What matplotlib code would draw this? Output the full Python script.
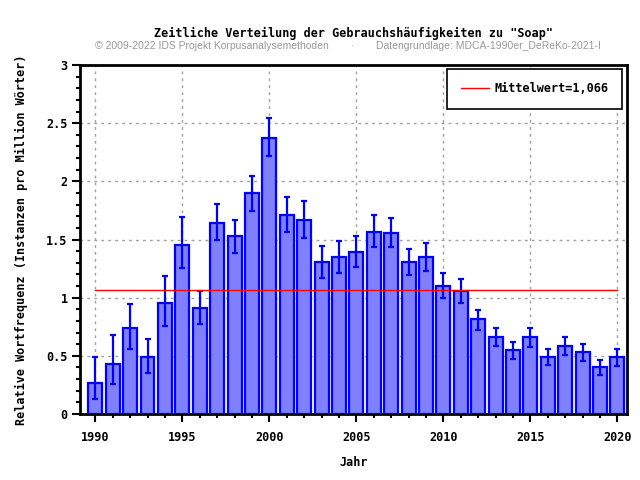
import matplotlib
matplotlib.use("Agg")
import matplotlib.pyplot as plt
from matplotlib.ticker import MultipleLocator, FuncFormatter

years = list(range(1990, 2021))
values = [0.264, 0.427, 0.737, 0.487, 0.951, 1.456, 0.908, 1.645, 1.528, 1.897,
          2.376, 1.714, 1.671, 1.304, 1.347, 1.396, 1.568, 1.559, 1.304, 1.347,
          1.103, 1.055, 0.814, 0.659, 0.547, 0.659, 0.487, 0.582, 0.530, 0.401, 0.487]
err_hi = [0.493, 0.682, 0.948, 0.648, 1.186, 1.697, 1.060, 1.808, 1.668, 2.049,
          2.548, 1.868, 1.834, 1.447, 1.490, 1.533, 1.714, 1.688, 1.421, 1.468,
          1.215, 1.163, 0.897, 0.742, 0.622, 0.742, 0.562, 0.665, 0.605, 0.467, 0.562]
err_lo = [0.129, 0.261, 0.562, 0.355, 0.759, 1.255, 0.776, 1.496, 1.387, 1.748,
          2.221, 1.568, 1.516, 1.169, 1.215, 1.267, 1.436, 1.436, 1.195, 1.230,
          0.997, 0.954, 0.722, 0.587, 0.473, 0.576, 0.424, 0.510, 0.456, 0.338, 0.413]
mean_value = 1.066
mean_label = "Mittelwert=1,066"
title = 'Zeitliche Verteilung der Gebrauchshäufigkeiten zu "Soap"'
subtitle_left = "© 2009-2022 IDS Projekt Korpusanalysemethoden"
subtitle_right = "Datengrundlage: MDCA-1990er_DeReKo-2021-I"

mono = "DejaVu Sans Mono"

fig = plt.figure(figsize=(6.4, 4.8), dpi=100)
ax = fig.add_axes([80/640, 66/480, 547/640, 349/480])

yerr = [[v - l for v, l in zip(values, err_lo)], [h - v for v, h in zip(values, err_hi)]]
ax.bar(years, values, width=0.8, color="#8080ff", edgecolor="#0000ff", linewidth=1.6, zorder=3)
ax.errorbar(years, values, yerr=yerr, fmt="none", ecolor="#0000ff", elinewidth=1.6,
            capsize=2.5, capthick=1.6, zorder=4)
ax.plot([years[0], years[-1]], [mean_value, mean_value], color="#ff0000", linewidth=1.0,
        zorder=5, label=mean_label)

ax.set_xlim(1989.12, 2020.55)
ax.set_ylim(0, 3)
ax.xaxis.set_major_locator(MultipleLocator(5))
ax.xaxis.set_minor_locator(MultipleLocator(1))
ax.yaxis.set_major_locator(MultipleLocator(0.5))
ax.yaxis.set_minor_locator(MultipleLocator(0.1))
ax.yaxis.set_major_formatter(FuncFormatter(lambda v, pos: f"{v:g}"))

ax.grid(True, which="major", color="#a0a0a0", linestyle=(0, (2, 3)), linewidth=1.0, zorder=0)
ax.tick_params(which="major", direction="out", length=6, width=1.5, labelsize=8.5, pad=3)
ax.tick_params(which="minor", direction="out", length=3, width=1.5)
ax.tick_params(axis="x", which="major", pad=6)
for lab in ax.get_xticklabels() + ax.get_yticklabels():
    lab.set_fontfamily(mono)
    lab.set_fontweight("bold")
for sp in ax.spines.values():
    sp.set_linewidth(2)
    sp.set_color("black")

ax.set_xlabel("Jahr", fontfamily=mono, fontweight="bold", fontsize=8.5, labelpad=9)
ax.set_ylabel("Relative Wortfrequenz (Instanzen pro Million Wörter)", fontfamily=mono,
              fontweight="bold", fontsize=8.5, labelpad=13)

leg = ax.legend(loc="upper right", bbox_to_anchor=(0.991, 0.989), borderaxespad=0,
                fancybox=False, edgecolor="black", framealpha=1, borderpad=1.15,
                handlelength=2.4, handletextpad=0.45,
                prop={"family": mono, "weight": "bold", "size": 8.5})
leg.get_frame().set_linewidth(1.2)

fig.text(353/640, 1 - 33/480, title, ha="center", va="center", fontfamily=mono,
         fontweight="bold", fontsize=8.5)
fig.text(95/640, 1 - 46/480, subtitle_left, ha="left", va="center",
         fontfamily="Liberation Sans", fontsize=7.5, color="#999999")
fig.text(353/640, 1 - 46/480, "·", ha="center", va="center",
         fontfamily="Liberation Sans", fontsize=7.5, color="#999999")
fig.text(376/640, 1 - 46/480, subtitle_right, ha="left", va="center",
         fontfamily="Liberation Sans", fontsize=7.5, color="#999999")

fig.savefig("out.png", dpi=100)
